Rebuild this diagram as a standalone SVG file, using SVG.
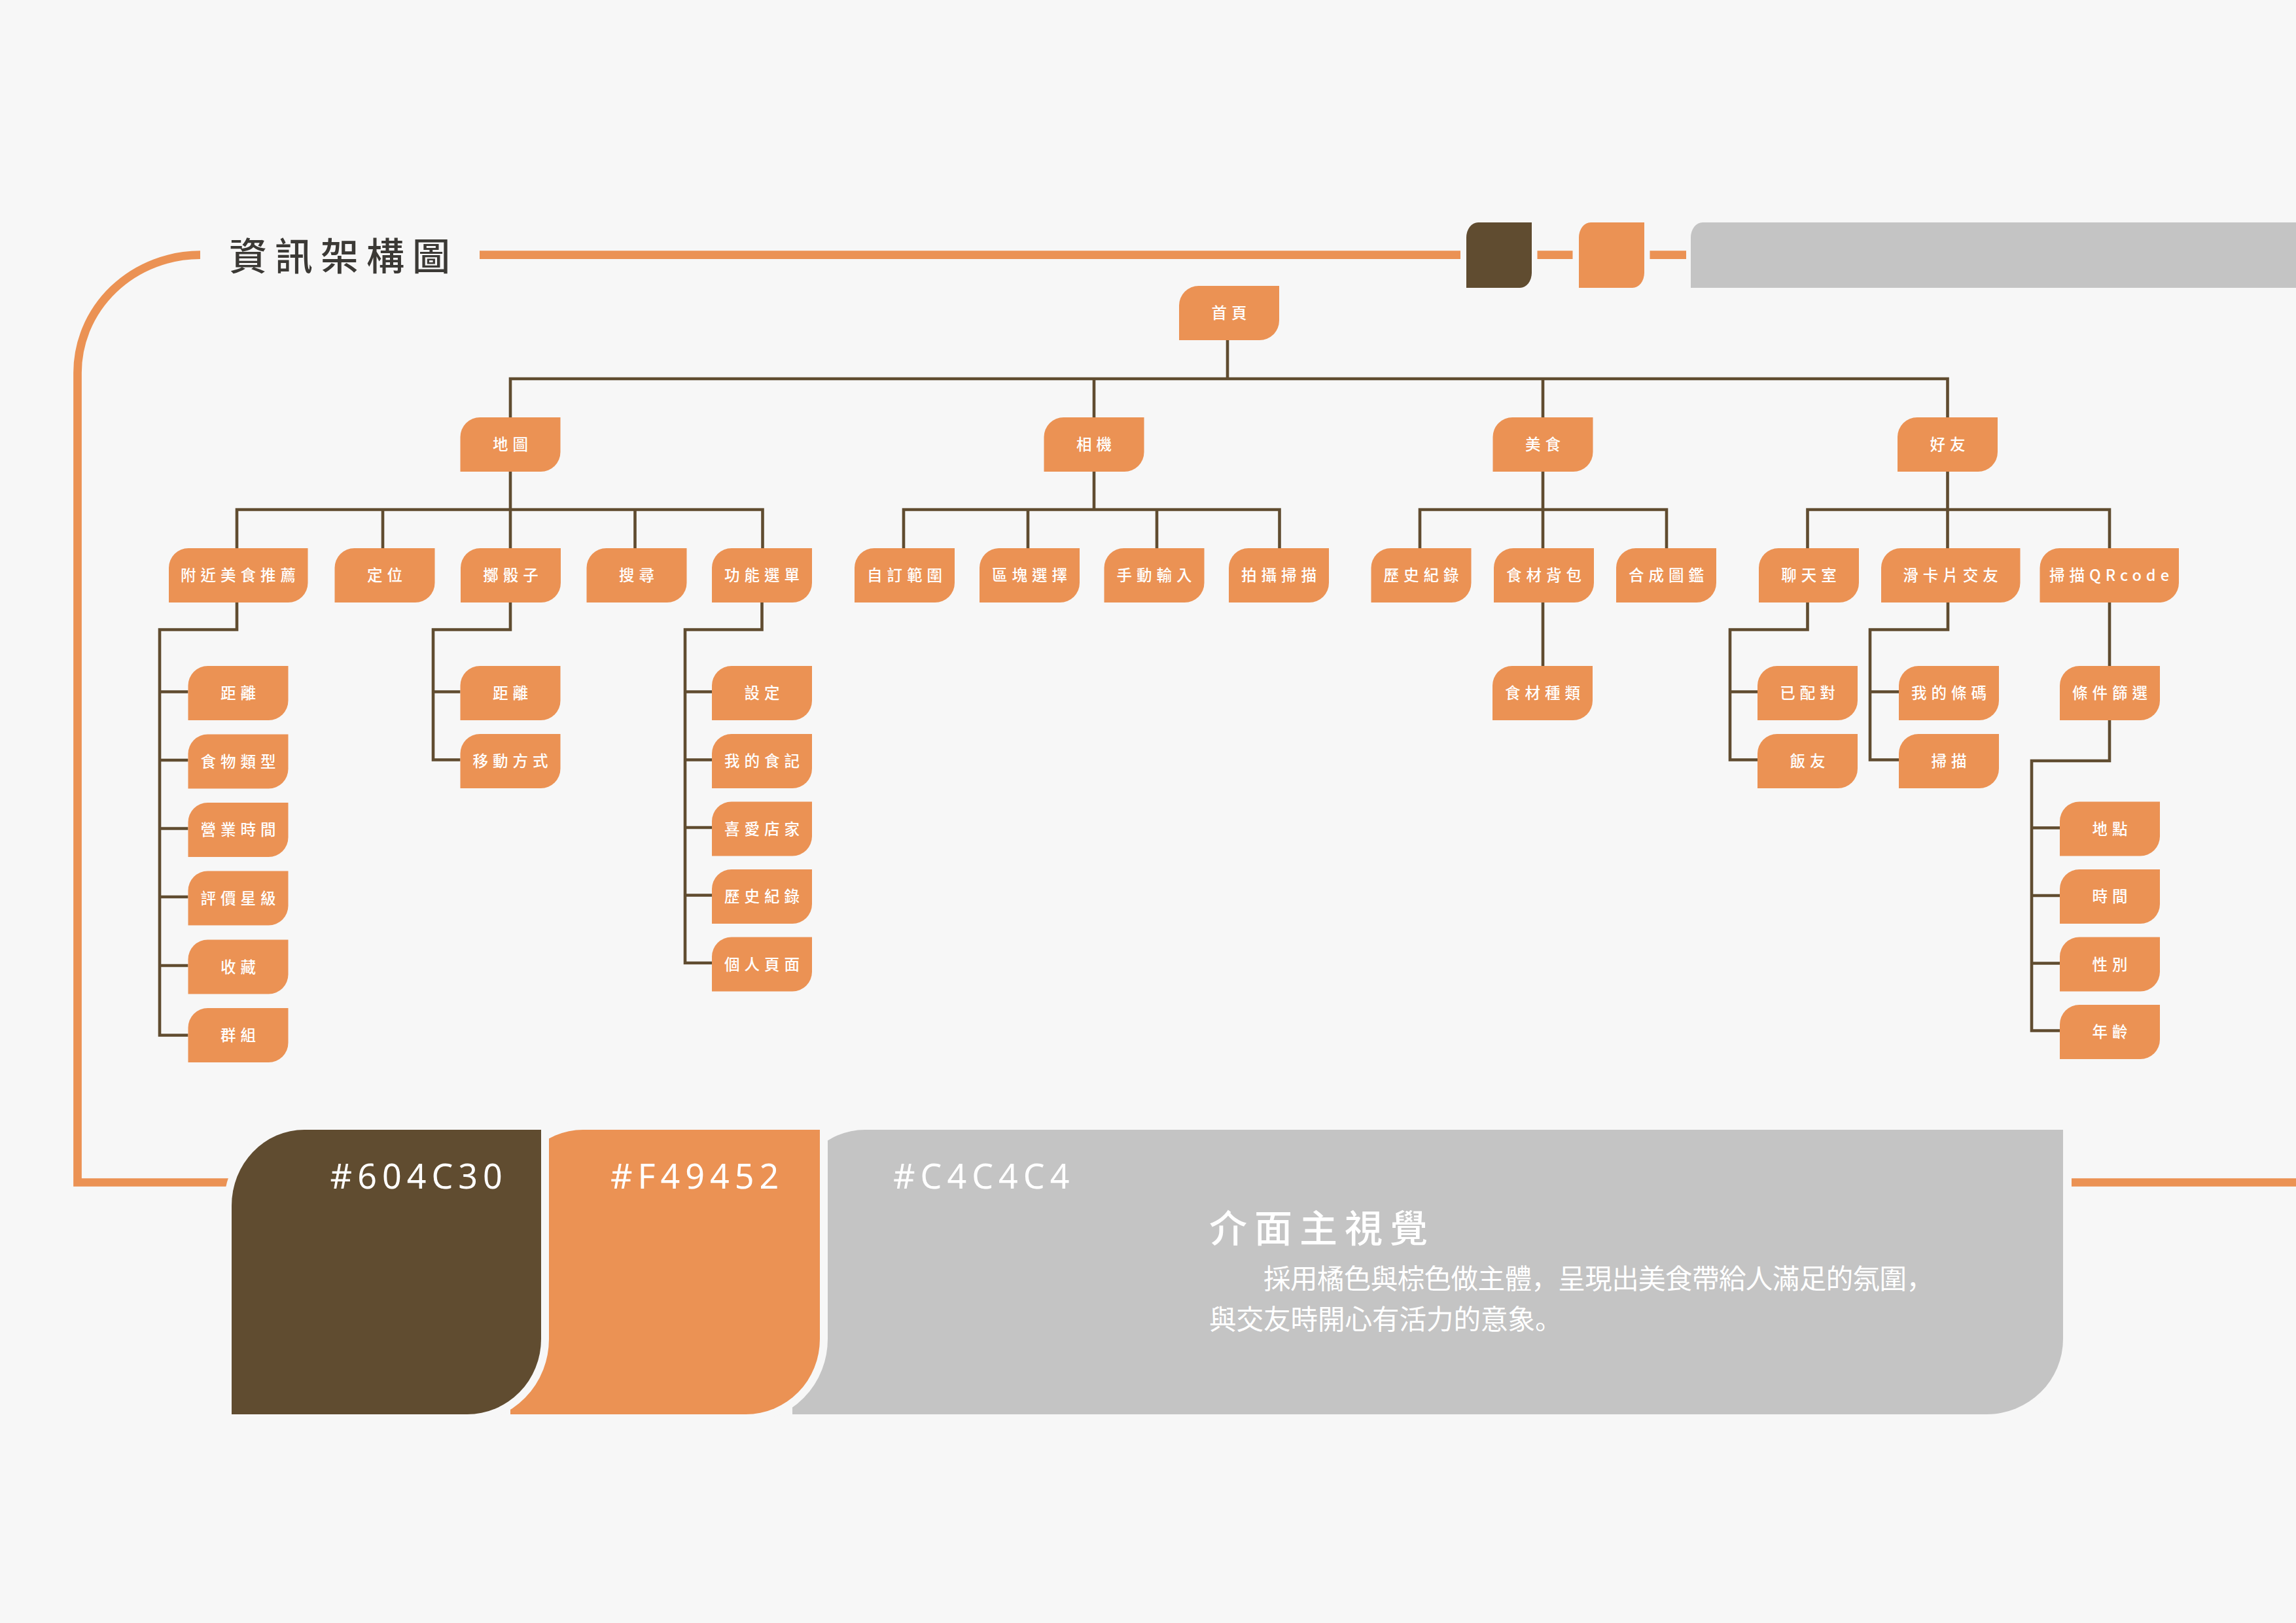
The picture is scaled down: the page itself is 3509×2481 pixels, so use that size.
<svg xmlns="http://www.w3.org/2000/svg" xmlns:xlink="http://www.w3.org/1999/xlink" width="3509" height="2481" viewBox="0 0 3509 2481">
<defs>
<style>
.bg{fill:#F7F7F7}
.nd{fill:#EB9254}
.lb{fill:#FFFFFF;font-family:"Noto Sans CJK TC","Noto Sans CJK JP",sans-serif;font-size:23.5px;font-weight:500;letter-spacing:7px;text-anchor:middle}
.cn{fill:none;stroke:#604C30;stroke-width:4.6;stroke-linejoin:miter;stroke-linecap:butt}
.ol{fill:none;stroke:#EB9254;stroke-width:12.7}
.hx{fill:#FFFFFF;font-family:"Noto Sans","Open Sans",sans-serif;font-size:52px;letter-spacing:8px}
.halo{stroke:#F7F7F7;stroke-width:24;paint-order:stroke}
</style>
<path id="nS" d="M30 0 H153 V53 A30 30 0 0 1 123 83 H0 V30 A30 30 0 0 1 30 0 Z"/>
<path id="nL" d="M30 0 H212.5 V53 A30 30 0 0 1 182.5 83 H0 V30 A30 30 0 0 1 30 0 Z"/>
</defs>
<rect class="bg" x="0" y="0" width="3509" height="2481"/>

<g id="frame">
<path class="ol" d="M306 389.7 A187.5 180 0 0 0 118.5 569.7 V1807.5 H390"/>
<path class="ol" d="M733 389.7 H2232 M2349.5 389.7 H2403.5 M2521.5 389.7 H2577 M3166 1807.5 H3509"/>
<path fill="#604C30" d="M2259 340 H2341 V417 A18 23 0 0 1 2323 440 H2241 V363 A18 23 0 0 1 2259 340 Z"/>
<path fill="#EB9254" d="M2431 340 H2513 V417 A18 23 0 0 1 2495 440 H2413 V363 A18 23 0 0 1 2431 340 Z"/>
<path fill="#C4C4C4" d="M2602 340 H3509 V440 H2584 V363 A18 23 0 0 1 2602 340 Z"/>
<text x="350" y="412.5" fill="#3B3935" font-family="'Noto Sans CJK TC','Noto Sans CJK JP',sans-serif" font-size="58" font-weight="500" letter-spacing="12">資訊架構圖</text>
</g>

<g id="palette">
<path class="halo" fill="#C4C4C4" d="M1322 1727 H3153 V2047 A117 115 0 0 1 3036 2162 H1211 V1843 A111 116 0 0 1 1322 1727 Z"/>
<path class="halo" fill="#EB9254" d="M891 1727 H1253 V2047 A113 115 0 0 1 1140 2162 H780 V1843 A111 116 0 0 1 891 1727 Z"/>
<path class="halo" fill="#604C30" d="M465 1727 H827 V2047 A113 115 0 0 1 714 2162 H354 V1843 A111 116 0 0 1 465 1727 Z"/>
<text class="hx" x="504.6" y="1816.7">#604C30</text>
<text class="hx" x="933" y="1816.7">#F49452</text>
<text class="hx" x="1365" y="1816.7">#C4C4C4</text>
<text x="1848" y="1899" fill="#FFFFFF" font-family="'Noto Sans CJK TC','Noto Sans CJK JP',sans-serif" font-size="58" font-weight="500" letter-spacing="11">介面主視覺</text>
<text x="1931" y="1970" fill="#FFFFFF" font-family="'Noto Sans CJK JP','Noto Sans CJK TC',sans-serif" font-size="41.5" textLength="1024" lengthAdjust="spacing">採用橘色與棕色做主體，呈現出美食帶給人滿足的氛圍，</text>
<text x="1848" y="2032" fill="#FFFFFF" font-family="'Noto Sans CJK JP','Noto Sans CJK TC',sans-serif" font-size="41.5">與交友時開心有活力的意象。</text>
</g>

<g id="connectors">
<path class="cn" d="M1876 520 V579 M780 638 V579 H2976.5 V638 M1672 579 V638 M2358 579 V638"/>
<path class="cn" d="M780 721 V779 M362 838 V779 H1165.5 V838 M585 779 V838 M780 779 V838 M970.5 779 V838"/>
<path class="cn" d="M1672 721 V779 M1381 838 V779 H1955.5 V838 M1571 779 V838 M1768 779 V838"/>
<path class="cn" d="M2358 721 V838 M2170 838 V779 H2547 V838 M2358 921 V1018"/>
<path class="cn" d="M2976.5 721 V838 M2762.5 838 V779 H3224 V838"/>
<path class="cn" d="M362 921 V962.5 H244 V1582.5 H287.5 M244 1057.5 H287.5 M244 1162 H287.5 M244 1266.5 H287.5 M244 1371 H287.5 M244 1476 H287.5"/>
<path class="cn" d="M780 921 V962.5 H662 V1161.5 H703.5 M662 1057.5 H703.5"/>
<path class="cn" d="M1164.5 921 V962.5 H1047 V1472 H1088 M1047 1057.5 H1088 M1047 1161.5 H1088 M1047 1265 H1088 M1047 1368.5 H1088"/>
<path class="cn" d="M2762.5 921 V962.5 H2644 V1161.5 H2686 M2644 1057.5 H2686"/>
<path class="cn" d="M2977 921 V962.5 H2858 V1161.5 H2902 M2858 1057.5 H2902"/>
<path class="cn" d="M3224 921 V1018 M3224 1101 V1163 H3105 V1575.5 H3148 M3105 1265.5 H3148 M3105 1369 H3148 M3105 1472.5 H3148"/>
</g>

<g id="n-home" transform="translate(1802,437)"><use href="#nS" class="nd"/><text class="lb" x="80" y="50">首頁</text></g>
<g id="n-map" transform="translate(703.5,638)"><use href="#nS" class="nd"/><text class="lb" x="80" y="50">地圖</text></g>
<g id="n-camera" transform="translate(1595.5,638)"><use href="#nS" class="nd"/><text class="lb" x="80" y="50">相機</text></g>
<g id="n-food" transform="translate(2281.5,638)"><use href="#nS" class="nd"/><text class="lb" x="80" y="50">美食</text></g>
<g id="n-friend" transform="translate(2900,638)"><use href="#nS" class="nd"/><text class="lb" x="80" y="50">好友</text></g>

<g id="n-nearby" transform="translate(258,838)"><use href="#nL" class="nd"/><text class="lb" x="109.5" y="50">附近美食推薦</text></g>
<g id="n-locate" transform="translate(511.5,838)"><use href="#nS" class="nd"/><text class="lb" x="80" y="50">定位</text></g>
<g id="n-dice" transform="translate(704,838)"><use href="#nS" class="nd"/><text class="lb" x="80" y="50">擲骰子</text></g>
<g id="n-search" transform="translate(896.5,838)"><use href="#nS" class="nd"/><text class="lb" x="80" y="50">搜尋</text></g>
<g id="n-menu" transform="translate(1088,838)"><use href="#nS" class="nd"/><text class="lb" x="80" y="50">功能選單</text></g>
<g id="n-range" transform="translate(1306,838)"><use href="#nS" class="nd"/><text class="lb" x="80" y="50">自訂範圍</text></g>
<g id="n-area" transform="translate(1497,838)"><use href="#nS" class="nd"/><text class="lb" x="80" y="50">區塊選擇</text></g>
<g id="n-manual" transform="translate(1687.5,838)"><use href="#nS" class="nd"/><text class="lb" x="80" y="50">手動輸入</text></g>
<g id="n-shoot" transform="translate(1878,838)"><use href="#nS" class="nd"/><text class="lb" x="80" y="50">拍攝掃描</text></g>
<g id="n-history" transform="translate(2095.5,838)"><use href="#nS" class="nd"/><text class="lb" x="80" y="50">歷史紀錄</text></g>
<g id="n-bag" transform="translate(2283,838)"><use href="#nS" class="nd"/><text class="lb" x="80" y="50">食材背包</text></g>
<g id="n-book" transform="translate(2470,838)"><use href="#nS" class="nd"/><text class="lb" x="80" y="50">合成圖鑑</text></g>
<g id="n-chat" transform="translate(2688,838)"><use href="#nS" class="nd"/><text class="lb" x="80" y="50">聊天室</text></g>
<g id="n-swipe" transform="translate(2875,838)"><use href="#nL" class="nd"/><text class="lb" x="109.5" y="50">滑卡片交友</text></g>
<g id="n-qr" transform="translate(3117.5,838)"><use href="#nL" class="nd"/><text class="lb" x="109.5" y="50">掃描QRcode</text></g>

<g id="n-dist1" transform="translate(287.5,1018)"><use href="#nS" class="nd"/><text class="lb" x="80" y="50">距離</text></g>
<g id="n-type" transform="translate(287.5,1122.5)"><use href="#nS" class="nd"/><text class="lb" x="80" y="50">食物類型</text></g>
<g id="n-hours" transform="translate(287.5,1227)"><use href="#nS" class="nd"/><text class="lb" x="80" y="50">營業時間</text></g>
<g id="n-rating" transform="translate(287.5,1331.5)"><use href="#nS" class="nd"/><text class="lb" x="80" y="50">評價星級</text></g>
<g id="n-fav" transform="translate(287.5,1436.5)"><use href="#nS" class="nd"/><text class="lb" x="80" y="50">收藏</text></g>
<g id="n-group" transform="translate(287.5,1541)"><use href="#nS" class="nd"/><text class="lb" x="80" y="50">群組</text></g>

<g id="n-dist2" transform="translate(703.5,1018)"><use href="#nS" class="nd"/><text class="lb" x="80" y="50">距離</text></g>
<g id="n-move" transform="translate(703.5,1122)"><use href="#nS" class="nd"/><text class="lb" x="80" y="50">移動方式</text></g>

<g id="n-setting" transform="translate(1088,1018)"><use href="#nS" class="nd"/><text class="lb" x="80" y="50">設定</text></g>
<g id="n-diary" transform="translate(1088,1122)"><use href="#nS" class="nd"/><text class="lb" x="80" y="50">我的食記</text></g>
<g id="n-shops" transform="translate(1088,1225.5)"><use href="#nS" class="nd"/><text class="lb" x="80" y="50">喜愛店家</text></g>
<g id="n-history2" transform="translate(1088,1329)"><use href="#nS" class="nd"/><text class="lb" x="80" y="50">歷史紀錄</text></g>
<g id="n-profile" transform="translate(1088,1432.5)"><use href="#nS" class="nd"/><text class="lb" x="80" y="50">個人頁面</text></g>

<g id="n-kind" transform="translate(2281,1018)"><use href="#nS" class="nd"/><text class="lb" x="80" y="50">食材種類</text></g>

<g id="n-matched" transform="translate(2686,1018)"><use href="#nS" class="nd"/><text class="lb" x="80" y="50">已配對</text></g>
<g id="n-buddy" transform="translate(2686,1122)"><use href="#nS" class="nd"/><text class="lb" x="80" y="50">飯友</text></g>
<g id="n-code" transform="translate(2902,1018)"><use href="#nS" class="nd"/><text class="lb" x="80" y="50">我的條碼</text></g>
<g id="n-scan" transform="translate(2902,1122)"><use href="#nS" class="nd"/><text class="lb" x="80" y="50">掃描</text></g>
<g id="n-filter" transform="translate(3148,1018)"><use href="#nS" class="nd"/><text class="lb" x="80" y="50">條件篩選</text></g>
<g id="n-place" transform="translate(3148,1225.5)"><use href="#nS" class="nd"/><text class="lb" x="80" y="50">地點</text></g>
<g id="n-time" transform="translate(3148,1329)"><use href="#nS" class="nd"/><text class="lb" x="80" y="50">時間</text></g>
<g id="n-gender" transform="translate(3148,1432.5)"><use href="#nS" class="nd"/><text class="lb" x="80" y="50">性別</text></g>
<g id="n-age" transform="translate(3148,1536)"><use href="#nS" class="nd"/><text class="lb" x="80" y="50">年齡</text></g>
</svg>
